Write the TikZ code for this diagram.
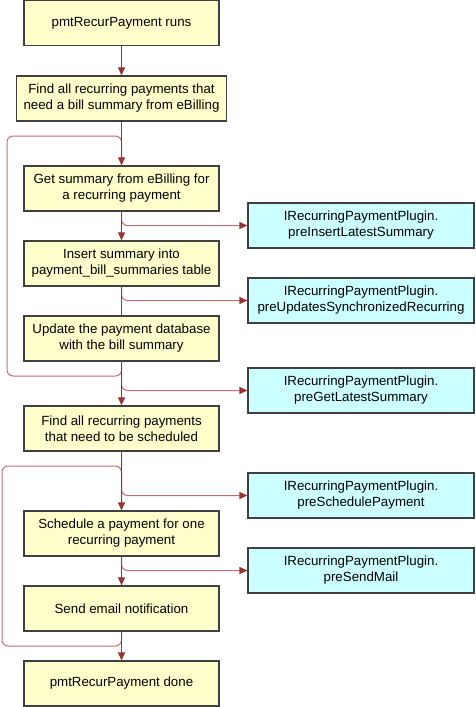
\documentclass[tikz,border=0pt]{standalone}
\usepackage{fontspec}
\setmainfont{Liberation Sans}
\usetikzlibrary{arrows.meta}
\definecolor{boxy}{HTML}{FFFFCC}
\definecolor{boxc}{HTML}{CCFFFF}
\definecolor{edge}{HTML}{404040}
\definecolor{mainred}{HTML}{993333}
\definecolor{lightred}{HTML}{C07070}
\begin{document}
\begin{tikzpicture}[x=1pt,y=-1pt,
  stepbox/.style={draw=edge, line width=1.2pt, fill=boxy, minimum width=195pt, minimum height=45pt,
    inner sep=0pt, align=center, font=\fontsize{13.3}{16}\selectfont},
  plugbox/.style={stepbox, fill=boxc, minimum width=226pt},
  mainline/.style={draw=mainred, line width=1pt},
  mainarrow/.style={mainline, -{Triangle[length=8pt,width=7pt]}},
  sideline/.style={draw=lightred, line width=1pt, rounded corners=6pt},
  sidearrow/.style={sideline, -{Triangle[length=8pt,width=7pt,color=mainred]}}
]
\useasboundingbox (0,0) rectangle (475,707);
\node[stepbox] (b1) at (121.5,23) {pmtRecurPayment runs};
\node[stepbox, minimum width=210pt] (b2) at (121.5,98.5) {Find all recurring payments that\\need a bill summary from eBilling};
\node[stepbox] (b3) at (121.5,188.5) {Get summary from eBilling for\\a recurring payment};
\node[stepbox] (b4) at (121.5,263.5) {Insert summary into\\payment\_bill\_summaries table};
\node[stepbox] (b5) at (121.5,338.5) {Update the payment database\\with the bill summary};
\node[stepbox] (b6) at (121.5,428.5) {Find all recurring payments\\that need to be scheduled};
\node[stepbox] (b7) at (121.5,533.5) {Schedule a payment for one\\recurring payment};
\node[stepbox] (b8) at (121.5,608.5) {Send email notification};
\node[stepbox] (b9) at (121.5,683.5) {pmtRecurPayment done};

\node[plugbox] (r1) at (361,225.5) {IRecurringPaymentPlugin.\\preInsertLatestSummary};
\node[plugbox] (r2) at (361,300.5) {IRecurringPaymentPlugin.\\preUpdatesSynchronizedRecurring};
\node[plugbox] (r3) at (361,390.5) {IRecurringPaymentPlugin.\\preGetLatestSummary};
\node[plugbox] (r4) at (361,495.5) {IRecurringPaymentPlugin.\\preSchedulePayment};
\node[plugbox] (r5) at (361,570.5) {IRecurringPaymentPlugin.\\preSendMail};

\coordinate (l1a) at (7,376);
\coordinate (l1b) at (7,136);
\coordinate (l2a) at (2,646);
\coordinate (l2b) at (2,466);

% loops
\draw[sideline] (b5.south) |- (l1a) -- (l1b) -| (b3.north);
\draw[sideline] (b8.south) |- (l2a) -- (l2b) -| (b7.north);

% branches
\draw[sidearrow] (b3.south) |- (r1.west);
\draw[sidearrow] (b4.south) |- (r2.west);
\draw[sidearrow] (b5.south) |- (r3.west);
\draw[sidearrow] (b6.south) |- (r4.west);
\draw[sidearrow] (b7.south) |- (r5.west);

% main flow
\draw[mainarrow] (b1) -- (b2);
\draw[mainarrow] (b2) -- (b3);
\draw[mainarrow] (b3) -- (b4);
\draw[mainline] (b4) -- (b5);
\draw[mainarrow] (b5) -- (b6);
\draw[mainarrow] (b6) -- (b7);
\draw[mainarrow] (b7) -- (b8);
\draw[mainarrow] (b8) -- (b9);
\end{tikzpicture}
\end{document}
